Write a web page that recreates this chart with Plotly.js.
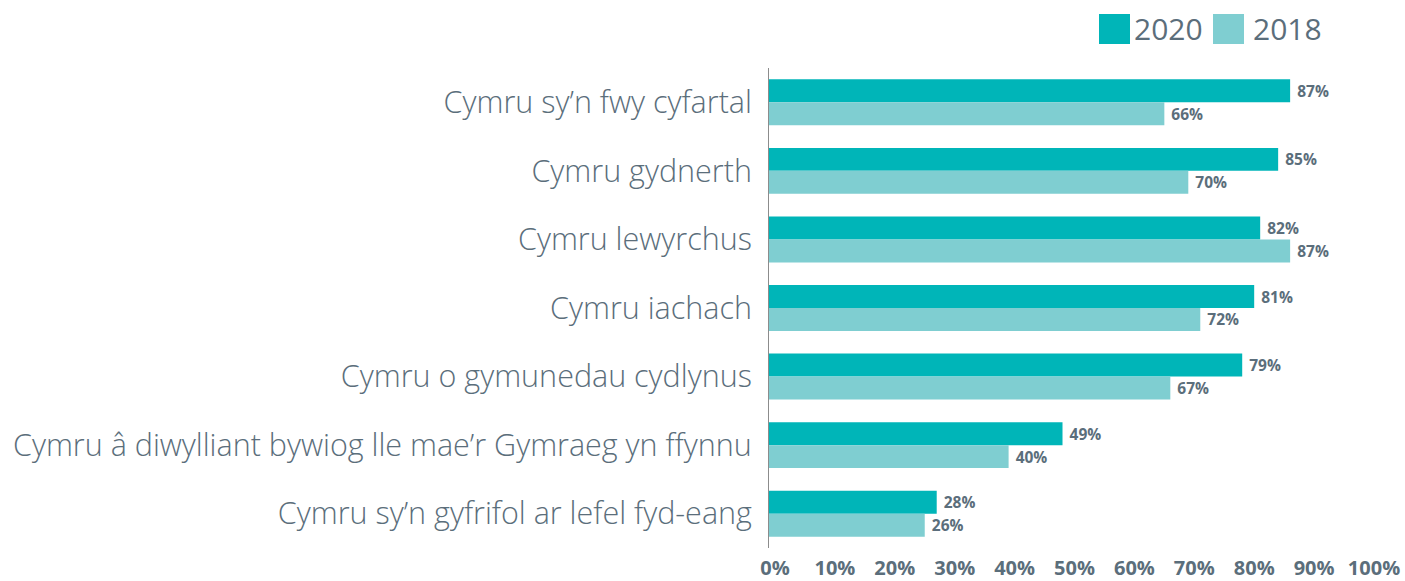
<!DOCTYPE html>
<html><head><meta charset="utf-8">
<script src="https://cdn.plot.ly/plotly-3.0.1.min.js"></script>
<style>html,body{margin:0;padding:0;background:#fff}#chart{width:1405px;height:581px}</style>
</head><body><div id="chart"></div>
<script>
const categories = [
  "Cymru sy\u2019n fwy cyfartal",
  "Cymru gydnerth",
  "Cymru lewyrchus",
  "Cymru iachach",
  "Cymru o gymunedau cydlynus",
  "Cymru \u00e2 diwylliant bywiog lle mae\u2019r Gymraeg yn ffynnu",
  "Cymru sy\u2019n gyfrifol ar lefel fyd-eang"
];
const values2020 = [87, 85, 82, 81, 79, 49, 28];
const values2018 = [66, 70, 87, 72, 67, 40, 26];
const seriesNames = ["2020", "2018"];
const tickValues = [0,10,20,30,40,50,60,70,80,90,100];
const tickLabels = tickValues.map(v => v + "%");

const c2020 = "#00B5B8", c2018 = "#7FCED1", txt = "#5B6E7B";
const fontFam = "'Open Sans', 'Noto Sans', sans-serif";

function barTrace(name, vals, color) {
  return {
    type: "bar", orientation: "h", name: name,
    y: categories, x: vals,
    marker: {color: color},
    text: vals.map(v => "\u00a0" + v + "%"),
    textposition: "outside", constraintext: "none", cliponaxis: false,
    textfont: {family: fontFam, size: 15.5, color: txt, weight: 700},
    hoverinfo: "skip"
  };
}
const data = [barTrace(seriesNames[0], values2020, c2020), barTrace(seriesNames[1], values2018, c2018)];

const layout = {
  width: 1405, height: 581,
  margin: {l: 769, r: 37, t: 68, b: 33},
  paper_bgcolor: "#fff", plot_bgcolor: "#fff",
  barmode: "group", bargap: 0.33, bargroupgap: 0,
  showlegend: false,
  font: {family: fontFam, color: txt},
  xaxis: {range: [0, 100], tickvals: tickValues, ticktext: tickLabels, showgrid: false, zeroline: false,
          showline: false, ticks: "", fixedrange: true, ticklabelshift: 6, ticklabelstandoff: 6,
          tickfont: {family: fontFam, size: 20, color: txt, weight: 700}},
  yaxis: {autorange: "reversed", showline: true, linecolor: "#8C8C8C", linewidth: 1, ticks: "",
          showgrid: false, ticklabelstandoff: 10,
          tickfont: {family: fontFam, size: 30.5, color: txt, weight: 300}},
  shapes: [
    {type: "rect", xref: "paper", yref: "paper", x0: (1099-769)/599, x1: (1130-769)/599,
     y0: (581-33-44)/480, y1: (581-33-14)/480, fillcolor: c2020, line: {width: 0}},
    {type: "rect", xref: "paper", yref: "paper", x0: (1213-769)/599, x1: (1244-769)/599,
     y0: (581-33-44)/480, y1: (581-33-14)/480, fillcolor: c2018, line: {width: 0}}
  ],
  annotations: [
    {xref: "paper", yref: "paper", x: (1132-769)/599, y: (581-33-29)/480, xanchor: "left", yanchor: "middle",
     text: seriesNames[0], showarrow: false, font: {family: fontFam, size: 30, color: txt}},
    {xref: "paper", yref: "paper", x: (1251-769)/599, y: (581-33-29)/480, xanchor: "left", yanchor: "middle",
     text: seriesNames[1], showarrow: false, font: {family: fontFam, size: 30, color: txt}}
  ]
};
Plotly.newPlot("chart", data, layout, {displayModeBar: false, staticPlot: true});
</script></body></html>
